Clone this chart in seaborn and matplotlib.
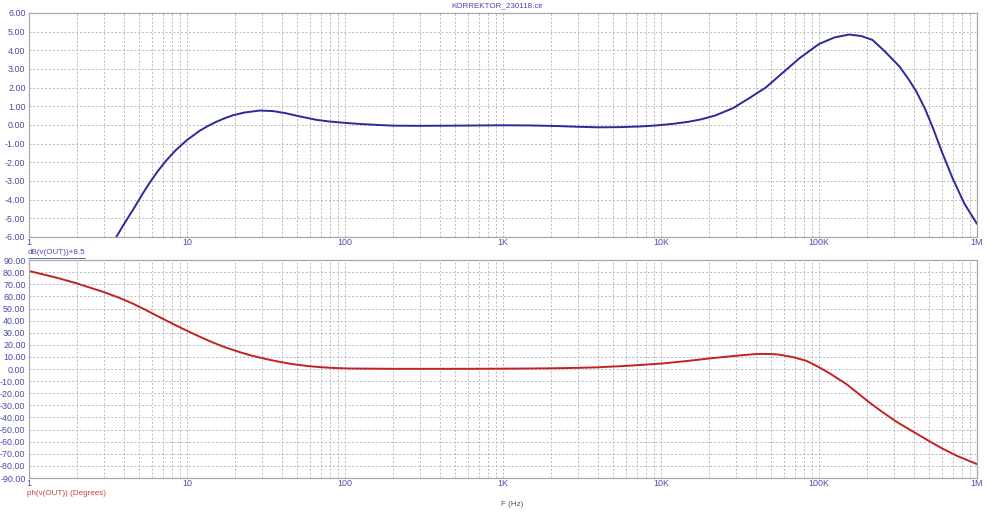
import matplotlib
matplotlib.use('Agg')
import matplotlib.pyplot as plt
import matplotlib.ticker as mticker
import pandas as pd
import seaborn as sns

# magnitude curve, dB(v(OUT))+8.5
freq_db = [3.3, 3.57, 4.0, 4.55, 5.2, 5.8, 6.5, 7.4, 8.5, 10, 12, 13.5, 15.4, 17.5, 19.6,
           23, 28.9, 35, 42.5, 52, 66, 80, 100, 124, 160, 200, 300, 500, 1000, 1500,
           2200, 3000, 4000, 5500, 7500, 9300, 12000, 15000, 18000, 22000, 28600,
           36000, 46000, 58000, 75500, 100000, 125000, 155000, 185000, 218000, 260000,
           323000, 370000, 413000, 470000, 527000, 600000, 700000, 830000, 1000000]
db_vals = [-6.51, -6.0, -5.3, -4.55, -3.73, -3.1, -2.5, -1.9, -1.35, -0.81, -0.32, -0.065, 0.175, 0.37, 0.52,
           0.66, 0.77, 0.74, 0.62, 0.45, 0.27, 0.18, 0.11, 0.05, 0.0, -0.04, -0.05, -0.04, -0.02, -0.03,
           -0.06, -0.1, -0.13, -0.12, -0.08, -0.03, 0.06, 0.17, 0.3, 0.5, 0.9,
           1.42, 2.0, 2.74, 3.58, 4.33, 4.68, 4.84, 4.76, 4.55, 3.95,
           3.13, 2.43, 1.79, 0.84, -0.18, -1.45, -2.85, -4.2, -5.3]

# phase curve, degrees
freq_ph = [1, 1.5, 2, 2.94, 3.7, 4.55, 5.5, 6.7, 8.2, 9.9, 12, 14.6, 17.5, 21.5, 26,
           31.8, 38, 47, 57, 69, 85, 107, 200, 500, 1000, 2000, 3000, 3900, 6000,
           10200, 15000, 21400, 30000, 38000, 44000, 50000, 56000, 68000, 83000,
           100000, 117000, 149000, 175000, 209000, 250000, 309000, 400000, 503000,
           600000, 741000, 870000, 1000000]
ph_vals = [81, 75.4, 70.8, 63.8, 59, 54, 48.7, 42.9, 37.1, 31.9, 26.8, 21.9, 17.9, 14.0, 10.9,
           8.2, 6.1, 4.0, 2.6, 1.6, 0.9, 0.45, 0.2, 0.2, 0.3, 0.6, 1.0, 1.4, 2.6,
           4.6, 6.8, 9.1, 11.0, 12.2, 12.5, 12.4, 11.9, 9.9, 6.9,
           1.5, -3.6, -12.4, -19.6, -27.7, -35.2, -43.5, -52.2, -59.8,
           -65.5, -71.5, -75.3, -78.5]

x_ticks = [1, 10, 100, 1000, 10000, 100000, 1000000]
x_labels = ['1', '10', '100', '1K', '10K', '100K', '1M']

label_col = '#4a4aa8'
fs = 5.8
sns.set_style('white')
plt.rcParams['font.family'] = ['Liberation Sans', 'DejaVu Sans']

fig = plt.figure(figsize=(10, 5.14), dpi=100)
ax1 = fig.add_axes([0.029, 0.539, 0.948, 0.436])
ax2 = fig.add_axes([0.029, 0.070, 0.948, 0.424])

df_db = pd.DataFrame({'f': freq_db, 'db': db_vals})
df_ph = pd.DataFrame({'f': freq_ph, 'ph': ph_vals})
sns.lineplot(data=df_db, x='f', y='db', ax=ax1, color='#2a2a9a', linewidth=1.4, estimator=None)
sns.lineplot(data=df_ph, x='f', y='ph', ax=ax2, color='#c42222', linewidth=1.4, estimator=None)

for ax, lo, hi, step in [(ax1, -6, 6, 1), (ax2, -90, 90, 10)]:
    ax.set_xscale('log')
    ax.set_xlim(1, 1e6)
    ax.set_ylim(lo, hi)
    ax.set_yticks([lo + i * step for i in range(int((hi - lo) / step) + 1)])
    ax.yaxis.set_major_formatter(mticker.FormatStrFormatter('%.2f'))
    ax.set_xticks(x_ticks)
    ax.set_xticklabels(x_labels)
    ax.xaxis.set_minor_locator(mticker.LogLocator(base=10, subs=range(2, 10), numticks=20))
    ax.xaxis.set_minor_formatter(mticker.NullFormatter())
    ax.grid(True, which='both', axis='x', color='#b8b8b8', linestyle=(0, (2, 2)), linewidth=0.7)
    ax.grid(True, which='major', axis='y', color='#b8b8b8', linestyle=(0, (2, 2)), linewidth=0.7)
    ax.tick_params(which='both', length=0, labelsize=fs + 0.6, labelcolor=label_col)
    ax.tick_params(axis='x', pad=0.5)
    ax.tick_params(axis='y', pad=2.5)
    ax.set_xlabel('')
    ax.set_ylabel('')
    for s in ax.spines.values():
        s.set_color('#a8a8a8')
        s.set_linewidth(0.9)

fig.text(0.497, 0.988, 'KORREKTOR_230118.cir', ha='center', va='center', fontsize=fs, color=label_col)
fig.text(0.028, 0.509, 'dB(v(OUT))+8.5', ha='left', va='center', fontsize=fs, color=label_col)
fig.add_artist(plt.Line2D([0.028, 0.085], [0.499, 0.499], color=label_col, linewidth=0.6))
fig.text(0.027, 0.039, 'ph(v(OUT)) (Degrees)', ha='left', va='center', fontsize=fs, color='#c84040')
fig.text(0.512, 0.018, 'F (Hz)', ha='center', va='center', fontsize=fs, color='#505070')

fig.savefig('out.png', dpi=100)
